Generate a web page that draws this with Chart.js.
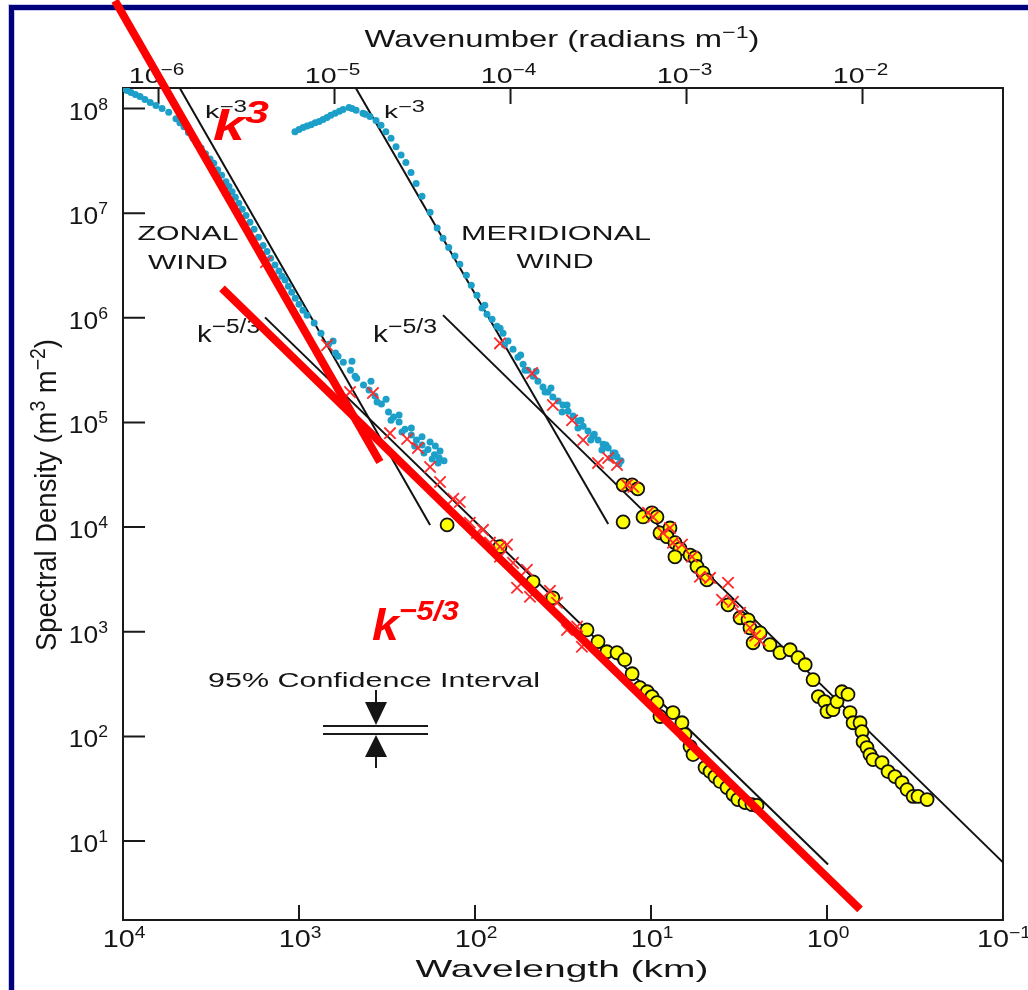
<!DOCTYPE html>
<html>
<head>
<meta charset="utf-8">
<script src="https://cdn.jsdelivr.net/npm/chart.js@4.4.1/dist/chart.umd.min.js"></script>
<style>
  html, body { margin: 0; padding: 0; background: #fff; }
  canvas { display: block; }
</style>
</head>
<body>
<canvas id="spectrum" width="1028" height="990"></canvas>
<script>
// tick labels (powers of ten)
const yTickPowers = [1, 2, 3, 4, 5, 6, 7, 8];
const xTickPowers = [4, 3, 2, 1, 0, -1];          // wavelength, km
const topTickPowers = [-6, -5, -4, -3, -2];       // wavenumber, rad/m

// zonal wind, large scales (blue dots)
const zonalBlueKm = [10000, 9500, 9000, 8500, 8000, 7500, 7000, 6500, 6000, 5500, 5000, 4750, 4500, 4250, 4000, 3800, 3600, 3400, 3200, 3050, 2900, 2750, 2600, 2500, 2400, 2300, 2200, 2100, 2000, 1900, 1800, 1700, 1600, 1520, 1450, 1370, 1300, 1250, 1200, 1150, 1100, 1050, 1000, 950, 900, 820, 750, 680, 620, 560, 510, 470, 430, 400, 370, 340, 310, 290, 270, 250, 230, 215, 200, 185, 170, 160, 150,
    600, 480, 360, 300, 260, 220, 195, 175, 162, 640, 500, 390, 320, 270, 230, 200, 180, 168, 158];
const zonalBlueS = [1.55e8, 1.49e8, 1.42e8, 1.36e8, 1.30e8, 1.22e8, 1.14e8, 1.07e8, 1.0e8, 9.2e7, 8.0e7, 7.3e7, 6.7e7, 5.9e7, 5.2e7, 4.6e7, 4.2e7, 3.7e7, 3.3e7, 3.0e7, 2.6e7, 2.3e7, 2.0e7, 1.8e7, 1.6e7, 1.42e7, 1.24e7, 1.09e7, 9.5e6, 8.2e6, 7.0e6, 5.9e6, 4.9e6, 4.3e6, 3.7e6, 3.2e6, 2.8e6, 2.5e6, 2.3e6, 2.0e6, 1.75e6, 1.54e6, 1.35e6, 1.18e6, 1.06e6, 8.9e5, 7.1e5, 5.6e5, 4.6e5, 3.77e5, 3.16e5, 2.65e5, 2.28e5, 2.04e5, 1.79e5, 1.50e5, 1.26e5, 1.13e5, 1.01e5, 8.6e4, 7.6e4, 6.8e4, 6.1e4, 5.5e4, 4.9e4, 4.6e4, 4.3e4,
    4.3e5, 2.77e5, 1.57e5, 1.05e5, 8.1e4, 5.96e4, 5.1e4, 4.48e4, 4.1e4, 6.0e5, 3.85e5, 2.48e5, 1.67e5, 1.18e5, 8.85e4, 7.3e4, 6.5e4, 5.96e4, 5.33e4];

// meridional wind, large scales (blue dots, shifted one decade)
const meridBlueKm = [1054, 1000, 948, 900, 855, 810, 769, 730, 693, 660, 624, 590, 562, 520, 500, 474, 433, 420, 395, 365, 342, 321, 300, 281, 263, 247, 231, 216, 200, 180, 164, 152, 141, 130, 122, 112, 105, 97.5, 91.2, 85.5, 80.0, 75.0, 69.3, 64.9, 60.8, 57.0, 53.3, 50.0, 46.8, 43.9, 41.1, 38.5, 36.1, 33.7, 31.6, 29.6, 27.7, 26.0, 24.3, 22.8, 21.4, 20.0, 18.7, 17.5, 16.4, 15.6, 14.8,
    88, 72, 55, 45, 37, 30, 25, 21, 18, 16, 68, 52, 40, 32, 26, 22, 19, 17, 15.2];
const meridBlueS = [6.0e7, 6.3e7, 6.6e7, 6.8e7, 7.0e7, 7.3e7, 7.5e7, 7.85e7, 8.2e7, 8.6e7, 9.0e7, 9.4e7, 9.8e7, 1.02e8, 1.0e8, 9.6e7, 9.0e7, 8.8e7, 8.4e7, 7.7e7, 6.9e7, 6.0e7, 5.2e7, 4.3e7, 3.6e7, 3.05e7, 2.45e7, 1.92e7, 1.45e7, 1.02e7, 7.2e6, 5.75e6, 4.7e6, 3.9e6, 3.25e6, 2.55e6, 2.05e6, 1.64e6, 1.24e6, 1.08e6, 9.7e5, 8.3e5, 7.1e5, 6.0e5, 5.0e5, 4.2e5, 3.6e5, 3.16e5, 2.77e5, 2.48e5, 2.18e5, 1.95e5, 1.75e5, 1.60e5, 1.47e5, 1.28e5, 1.15e5, 1.03e5, 9.2e4, 8.3e4, 7.4e4, 6.8e4, 6.2e4, 5.7e4, 5.1e4, 4.7e4, 4.3e4,
    1.32e6, 7.96e5, 4.4e5, 3.09e5, 2.13e5, 1.47e5, 1.05e5, 7.7e4, 6.1e4, 5.1e4, 5.5e5, 3.16e5, 1.95e5, 1.26e5, 8.85e4, 6.8e4, 5.46e4, 4.57e4, 4.0e4];

// red crosses
const zonalCrossKm = [1540, 693, 513, 380, 304, 243, 211, 180, 158, 133, 122, 107, 97.5, 90.1, 82.2, 72.1, 65.8, 72.1, 60.8, 50.7, 57.7, 48.7, 37.5, 34.2, 30.0, 26.3, 24.7];
const zonalCrossS = [3.39e6, 5.48e5, 1.95e5, 1.91e5, 7.9e4, 6.95e4, 5.7e4, 3.75e4, 2.7e4, 1.86e4, 1.74e4, 1.10e4, 8.8e3, 9.4e3, 7.1e3, 6.5e3, 6.8e3, 5.2e3, 4.55e3, 3.9e3, 2.63e3, 2.16e3, 2.46e3, 1.89e3, 1.04e3, 1.12e3, 720];
const meridCrossKm = [72.1, 47.4, 36.1, 28.1, 24.3, 20.0, 17.5, 15.6, 13.7, 12.6, 10.4, 9.75, 8.55, 7.80, 7.50, 6.67, 5.85, 5.27, 4.62, 3.65, 3.95, 3.42, 3.12, 2.74, 2.56, 2.40];
const meridCrossS = [5.7e5, 2.96e5, 1.47e5, 1.05e5, 6.8e4, 4.1e4, 4.57e4, 3.93e4, 2.53e4, 2.42e4, 1.37e4, 1.25e4, 8.8e3, 9.8e3, 7.1e3, 6.8e3, 5.2e3, 3.35e3, 3.27e3, 2.94e3, 2.02e3, 1.93e3, 1.52e3, 1.09e3, 916, 820];

// yellow circles
const zonalYellowKm = [144, 72.1, 46.8, 36.1, 23.1, 20.0, 17.8, 15.6, 14.1, 12.8, 11.55, 10.5, 9.87, 9.25, 8.89, 7.50, 6.67, 6.41, 6.00, 5.77, 4.93, 4.62, 4.33, 4.05, 3.70, 3.42, 3.21, 2.92, 2.67, 2.50];
const zonalYellowS = [1.05e4, 6.5e3, 3.0e3, 2.11e3, 1.04e3, 804, 644, 631, 541, 397, 292, 267, 240, 210, 155, 169, 135, 104, 80.0, 67.0, 50.4, 46.1, 41.3, 37.1, 32.4, 27.9, 24.9, 23.3, 22.3, 21.9];
const meridYellowKm = [14.4, 12.8, 11.9, 14.4, 11.1, 9.87, 9.25, 8.89, 7.80, 8.11, 7.31, 6.84, 7.31, 6.00, 5.62, 5.48, 5.07, 4.81, 3.65, 3.12, 2.81, 2.74, 2.63, 2.40, 2.11, 1.85, 1.62, 1.46, 1.33, 1.20, 1.12, 1.03, 1.00, 0.925, 0.877, 0.822, 0.760, 0.740, 0.711, 0.649, 0.633, 0.624, 0.593, 0.570, 0.548, 0.487, 0.450, 0.411, 0.375, 0.351, 0.324, 0.304, 0.270];
const meridYellowS = [2.53e4, 2.53e4, 2.32e4, 1.12e4, 1.25e4, 1.37e4, 1.25e4, 8.8e3, 9.8e3, 8.1e3, 7.1e3, 6.2e3, 5.2e3, 5.4e3, 5.1e3, 4.2e3, 3.66e3, 3.13e3, 1.81e3, 1.36e3, 1.30e3, 1.09e3, 785, 977, 752, 631, 673, 565, 484, 348, 240, 215, 173, 180, 215, 267, 252, 169, 135, 135, 111, 89, 78.2, 67.0, 60.1, 56.2, 46.1, 41.3, 36.2, 31.0, 26.7, 26.7, 24.9];

// reference slopes (end points)
const zonalK3Km = [4742, 180],    zonalK3S = [1.55e8, 1.05e4];
const zonalK53Km = [1560, 0.986], zonalK53S = [1.01e6, 5.98];
const meridK3Km = [474, 17.5],    meridK3S = [1.55e8, 1.07e4];
const meridK53Km = [152, 0.1],    meridK53S = [1.06e6, 6.25];
// red overlay lines
const redK3Km = [11100, 347],     redK3S = [1.07e9, 4.19e4];
const redK53Km = [2738, 0.649],   redK53S = [1.91e6, 2.22];

const pts = (xs, ys) => xs.map((x, i) => ({x: x, y: ys[i]}));
const FACE = '"Liberation Sans", Arial, Helvetica, sans-serif';

// draws text made of [string, isSuperscript] pieces, optionally stretched to a width
function rich(ctx, parts, x, y, o) {
    const supSize = o.supSize || Math.round(o.size * 0.7);
    const rise = o.rise || o.size * 0.4;
    const style = o.style || '';
    const widths = parts.map(([t, s]) => {
        ctx.font = `${style} ${s ? supSize : o.size}px ${FACE}`;
        return ctx.measureText(t).width;
    });
    const natural = widths.reduce((a, b) => a + b, 0);
    const sx = o.width ? o.width / natural : (o.sx || 1);
    ctx.save();
    ctx.translate(x, y);
    if (o.rotate) ctx.rotate(o.rotate);
    ctx.scale(sx, o.sy || 1);
    ctx.fillStyle = o.color || '#151515';
    ctx.textAlign = 'left';
    ctx.textBaseline = 'alphabetic';
    let cx = o.align === 'center' ? -natural / 2 : o.align === 'right' ? -natural : 0;
    parts.forEach(([t, s], i) => {
        ctx.font = `${style} ${s ? supSize : o.size}px ${FACE}`;
        ctx.fillText(t, cx, s ? -rise : 0);
        cx += widths[i];
    });
    ctx.restore();
}

const expo = p => (p < 0 ? '\u2212' + (-p) : String(p));

const frame = {
    id: 'frame',
    beforeDraw(chart) {
        const ctx = chart.ctx;
        ctx.save();
        ctx.fillStyle = '#fff';
        ctx.fillRect(0, 0, chart.width, chart.height);
        ctx.fillStyle = '#c8c8ee';
        ctx.fillRect(8, 4, chart.width, 7);
        ctx.fillRect(8, 4, 7, chart.height);
        ctx.fillStyle = '#00007a';
        ctx.fillRect(9, 5, chart.width, 5);
        ctx.fillRect(9, 5, 5, chart.height);
        ctx.restore();
    },
    beforeDatasetsDraw(chart) {
        const {ctx, chartArea: ca, scales} = chart;
        ctx.save();
        ctx.strokeStyle = '#1a1a1a';
        ctx.lineWidth = 2;
        ctx.strokeRect(ca.left, ca.top, ca.right - ca.left, ca.bottom - ca.top);
        ctx.beginPath();
        yTickPowers.forEach(p => {
            const y = scales.y.getPixelForValue(Math.pow(10, p));
            ctx.moveTo(ca.left, y); ctx.lineTo(ca.left + 22, y);
            rich(ctx, [['10', false], [expo(p), true]], 108, y + 11,
                 {size: 24, supSize: 16, rise: 10, sx: 1.1, align: 'right'});
        });
        xTickPowers.forEach(p => {
            const x = scales.x.getPixelForValue(Math.pow(10, p));
            ctx.moveTo(x, ca.bottom); ctx.lineTo(x, ca.bottom - 15);
            rich(ctx, [['10', false], [expo(p), true]], x + 1, 947,
                 {size: 24, supSize: 16, rise: 9, sx: 1.2, align: 'center'});
        });
        topTickPowers.forEach(p => {
            // wavelength (km) of wavenumber k (rad/m)
            const km = 2 * Math.PI / Math.pow(10, p) / 1000;
            const x = scales.x.getPixelForValue(km);
            ctx.moveTo(x, ca.top); ctx.lineTo(x, ca.top + 16);
            rich(ctx, [['10', false], [expo(p), true]], x - 2, 83,
                 {size: 22, supSize: 16, rise: 8, sx: 1.3, align: 'center'});
        });
        ctx.stroke();

        // axis titles
        rich(ctx, [['Wavenumber (radians m', false], ['\u22121', true], [')', false]], 562, 47,
             {size: 24, supSize: 17, rise: 9, width: 395, align: 'center'});
        rich(ctx, [['Wavelength (km)', false]], 562, 977, {size: 24, width: 293, align: 'center'});
        rich(ctx, [['Spectral Density (m', false], ['3', true], [' m', false], ['\u22122', true], [')', false]],
             56, 495, {size: 24, supSize: 17, rise: 9, width: 312, sy: 1.25, align: 'center', rotate: -Math.PI / 2});

        // panel annotations
        rich(ctx, [['ZONAL', false]], 188, 240, {size: 21, width: 101, align: 'center'});
        rich(ctx, [['WIND', false]], 188, 269, {size: 21, width: 80, align: 'center'});
        rich(ctx, [['MERIDIONAL', false]], 556, 240, {size: 21, width: 190, align: 'center'});
        rich(ctx, [['WIND', false]], 555, 268, {size: 21, width: 77, align: 'center'});
        rich(ctx, [['k', false], ['\u22123', true]], 205, 118, {size: 19, supSize: 16, rise: 6, width: 42});
        rich(ctx, [['k', false], ['\u22123', true]], 384, 118, {size: 19, supSize: 16, rise: 6, width: 41});
        rich(ctx, [['k', false], ['\u22125/3', true]], 197, 342, {size: 24, supSize: 20, rise: 9, width: 63});
        rich(ctx, [['k', false], ['\u22125/3', true]], 373, 342, {size: 24, supSize: 20, rise: 9, width: 64});
        rich(ctx, [['95% Confidence Interval', false]], 208, 687, {size: 21, width: 332});

        // 95% confidence interval marker
        ctx.fillStyle = '#151515';
        ctx.beginPath();
        ctx.moveTo(376, 690); ctx.lineTo(376, 704);
        ctx.moveTo(376, 768); ctx.lineTo(376, 756);
        ctx.moveTo(323, 726); ctx.lineTo(428, 726);
        ctx.moveTo(323, 734); ctx.lineTo(428, 734);
        ctx.stroke();
        ctx.beginPath();
        ctx.moveTo(365, 702); ctx.lineTo(387, 702); ctx.lineTo(376, 725); ctx.closePath();
        ctx.moveTo(365, 757); ctx.lineTo(387, 757); ctx.lineTo(376, 735); ctx.closePath();
        ctx.fill();
        ctx.restore();
    },
    afterDatasetsDraw(chart) {
        const ctx = chart.ctx;
        rich(ctx, [['k', false], ['3', true]], 213, 140,
             {size: 42, supSize: 32, rise: 17, width: 56, style: 'italic bold', color: '#ff0000'});
        rich(ctx, [['k', false], ['\u22125/3', true]], 372, 640,
             {size: 44, supSize: 28, rise: 20, width: 87, style: 'italic bold', color: '#ff0000'});
    }
};

const blue = '#1c9fc9';
const scatterSet = (data, style, order) => Object.assign({data: data, showLine: false, order: order}, style);
const lineSet = (data, color, width, order) => ({
    data: data, showLine: true, pointRadius: 0, borderColor: color, borderWidth: width,
    borderCapStyle: 'butt', clip: false, order: order
});

const dotStyle = {pointRadius: 3.5, pointBackgroundColor: blue, pointBorderWidth: 0};
const crossStyle = {pointStyle: 'crossRot', pointRadius: 8, pointBorderColor: '#ff2828', pointBorderWidth: 1.8};
const circleStyle = {pointRadius: 6.5, pointBackgroundColor: '#ffff00', pointBorderColor: '#111', pointBorderWidth: 1.8};

new Chart(document.getElementById('spectrum'), {
    type: 'scatter',
    data: {
        datasets: [
            lineSet(pts(zonalK3Km, zonalK3S), '#111', 2, 5),
            lineSet(pts(zonalK53Km, zonalK53S), '#111', 2, 5),
            lineSet(pts(meridK3Km, meridK3S), '#111', 2, 5),
            lineSet(pts(meridK53Km, meridK53S), '#111', 2, 5),
            scatterSet(pts(zonalBlueKm, zonalBlueS), dotStyle, 4),
            scatterSet(pts(meridBlueKm, meridBlueS), dotStyle, 4),
            scatterSet(pts(zonalYellowKm, zonalYellowS), circleStyle, 3),
            scatterSet(pts(meridYellowKm, meridYellowS), circleStyle, 3),
            scatterSet(pts(zonalCrossKm, zonalCrossS), crossStyle, 2),
            scatterSet(pts(meridCrossKm, meridCrossS), crossStyle, 2),
            lineSet(pts(redK3Km, redK3S), '#ff0000', 8, 1),
            lineSet(pts(redK53Km, redK53S), '#ff0000', 8, 1)
        ]
    },
    options: {
        responsive: false,
        animation: false,
        devicePixelRatio: 1,
        events: [],
        layout: {padding: {left: 123, right: 25, top: 88, bottom: 70}},
        plugins: {legend: {display: false}, tooltip: {enabled: false}},
        scales: {
            x: {type: 'logarithmic', min: 0.1, max: 10000, reverse: true, display: false},
            y: {type: 'logarithmic', min: 1.76, max: 1.57e8, display: false}
        }
    },
    plugins: [frame]
});
</script>
</body>
</html>
